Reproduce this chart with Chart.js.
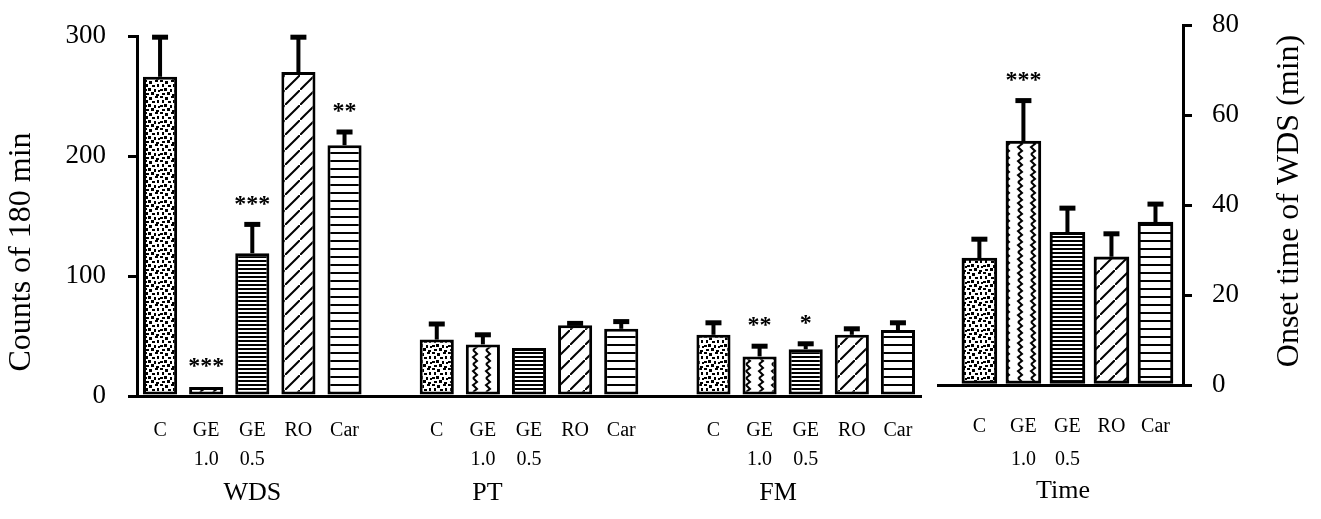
<!DOCTYPE html>
<html>
<head>
<meta charset="utf-8">
<script src="https://cdn.jsdelivr.net/npm/chart.js@4.4.0/dist/chart.umd.min.js"></script>
<style>
  html, body { margin: 0; padding: 0; background: #fff; }
  #wrap { position: relative; width: 1321px; height: 519px; }
  canvas { position: absolute; top: 0; }
</style>
</head>
<body>
<div id="wrap">
  <canvas id="countsChart" width="935" height="519" style="left:0"></canvas>
  <canvas id="timeChart" width="386" height="519" style="left:935px"></canvas>
</div>
<script>
// groupes de traitement
const treatments = ['C', ['GE', '1.0'], ['GE', '0.5'], 'RO', 'Car'];

// Counts of 180 min (mean, SE, significance)
const wdsMean = [266, 7.5, 119, 270, 209];
const wdsErr = [33, 0, 24, 29, 11];
const wdsStars = ['', '***', '***', '', '**'];

const ptMean = [47, 43, 40, 59, 56];
const ptErr = [13, 8, 0, 1.5, 6];
const ptStars = ['', '', '', '', ''];

const fmMean = [51, 33, 39, 51, 55];
const fmErr = [10, 8.5, 4.5, 5, 6];
const fmStars = ['', '**', '*', '', ''];

// Onset time of WDS (min)
const timeMean = [28.2, 54.2, 33.9, 28.5, 36.2];
const timeErr = [4.2, 9, 5.4, 5.1, 4];
const timeStars = ['', '***', '', '', ''];

const countTicks = [0, 100, 200, 300];
const timeTicks = [0, 20, 40, 60, 80];

const serif = '"Liberation Serif", "Times New Roman", serif';

// motifs des barres
function makePattern(w, h, draw) {
    const c = document.createElement('canvas');
    c.width = w;
    c.height = h;
    const g = c.getContext('2d');
    g.fillStyle = '#fff';
    g.fillRect(0, 0, w, h);
    g.fillStyle = '#000';
    g.strokeStyle = '#000';
    draw(g);
    return g.createPattern(c, 'repeat');
}

const stipple = makePattern(16, 16, g => {
    [[0, 0, 3, 2], [5, 1, 3, 3], [11, 0, 3, 2], [2, 4, 2, 3], [8, 5, 3, 2], [13, 4, 2, 3],
     [0, 9, 3, 2], [4, 8, 3, 3], [10, 9, 2, 3], [14, 10, 2, 2], [2, 13, 3, 2], [7, 12, 3, 3],
     [12, 14, 3, 2]].forEach(r => g.fillRect(...r));
});
const wavy = makePattern(13, 14, g => {
    g.lineWidth = 2;
    g.beginPath();
    g.moveTo(5, 0); g.lineTo(9, 4); g.lineTo(5, 7); g.lineTo(9, 11); g.lineTo(5, 14);
    g.stroke();
});
const dense = makePattern(4, 4, g => g.fillRect(0, 0, 4, 2));
const diag = makePattern(15, 15, g => {
    g.lineWidth = 2;
    g.beginPath();
    g.moveTo(-2, 17); g.lineTo(17, -2);
    g.stroke();
});
const lines = makePattern(8, 8, g => g.fillRect(0, 0, 8, 2));
const fills = [stipple, wavy, dense, diag, lines];

// barres d'erreur + étoiles
const errorBars = {
    id: 'errorBars',
    afterDatasetsDraw(chart) {
        const ctx = chart.ctx;
        const ds = chart.data.datasets[0];
        const yScale = chart.scales.y;
        ctx.save();
        ctx.fillStyle = '#000';
        chart.getDatasetMeta(0).data.forEach((bar, i) => {
            const d = ds.data[i];
            const v = (d !== null && typeof d === 'object') ? d.y : d;
            if (v === null || v === undefined) return;
            let top = bar.y;
            if (ds.errors[i] > 0) {
                top = yScale.getPixelForValue(v + ds.errors[i]);
                ctx.fillRect(bar.x - 2, top, 4, bar.y - top);
                ctx.fillRect(bar.x - 8, top - 2.5, 16, 5);
            }
            if (ds.stars[i]) {
                ctx.font = 'bold 24px ' + serif;
                ctx.textAlign = 'center';
                ctx.textBaseline = 'middle';
                ctx.fillText(ds.stars[i], bar.x, top - 20);
            }
        });
        ctx.restore();
    }
};

const yGrid = { drawOnChartArea: false, drawTicks: true, tickLength: 9, lineWidth: 3, color: '#000' };
const yBorder = { width: 3, color: '#000' };
// pas de marge automatique : la zone du graphique suit le layout.padding
const noPad = s => { s.paddingTop = 0; s.paddingBottom = 0; s.paddingLeft = 0; s.paddingRight = 0; };

// graphique de gauche : WDS, PT, FM
const countsTitles = {
    id: 'countsTitles',
    afterDraw(chart) {
        const ctx = chart.ctx;
        const x = chart.scales.x;
        ctx.save();
        ctx.fillStyle = '#000';
        ctx.textAlign = 'center';
        ctx.textBaseline = 'middle';
        ctx.font = '26px ' + serif;
        [['WDS', 2], ['PT', 7.1], ['FM', 13.4]].forEach(t => ctx.fillText(t[0], x.getPixelForValue(t[1]), 493));
        ctx.translate(22, 252);
        ctx.rotate(-Math.PI / 2);
        ctx.font = '32px ' + serif;
        ctx.fillText('Counts of 180 min', 0, 0);
        ctx.restore();
    }
};

new Chart('countsChart', {
    type: 'bar',
    data: {
        labels: [...treatments, '', ...treatments, '', ...treatments],
        datasets: [{
            data: [...wdsMean, null, ...ptMean, null, ...fmMean],
            errors: [...wdsErr, 0, ...ptErr, 0, ...fmErr],
            stars: [...wdsStars, '', ...ptStars, '', ...fmStars],
            backgroundColor: [...fills, '#fff', ...fills, '#fff', ...fills],
            borderColor: '#000',
            borderWidth: 3,
            borderSkipped: false,
            barPercentage: 0.74,
            categoryPercentage: 1
        }]
    },
    options: {
        responsive: false,
        animation: false,
        devicePixelRatio: 1,
        layout: { padding: { left: 0, top: 36, right: 14, bottom: 0 } },
        plugins: { legend: { display: false }, tooltip: { enabled: false } },
        scales: {
            x: {
                grid: { display: false, drawTicks: false },
                border: { width: 3, color: '#000' },
                ticks: { autoSkip: false, maxRotation: 0, padding: 20, color: '#000',
                    font: { family: serif, size: 20, lineHeight: 1.45 } },
                afterFit: s => { noPad(s); s.height = 123; }
            },
            y: {
                min: countTicks[0],
                max: countTicks[countTicks.length - 1],
                grid: yGrid,
                border: yBorder,
                ticks: { stepSize: countTicks[1] - countTicks[0], padding: 22, color: '#000',
                    font: { family: serif, size: 27 } },
                afterFit: s => { noPad(s); s.width = 137; }
            }
        }
    },
    plugins: [errorBars, countsTitles]
});

// graphique de droite : Time
const timeTitles = {
    id: 'timeTitles',
    afterDraw(chart) {
        const ctx = chart.ctx;
        const x = chart.scales.x;
        ctx.save();
        ctx.fillStyle = '#000';
        ctx.textAlign = 'center';
        ctx.textBaseline = 'middle';
        ctx.font = '26px ' + serif;
        ctx.fillText('Time', x.getPixelForValue(1.9), 491);
        ctx.translate(355, 201);
        ctx.rotate(-Math.PI / 2);
        ctx.font = '32px ' + serif;
        ctx.fillText('Onset time of WDS (min)', 0, 0);
        ctx.restore();
    }
};

new Chart('timeChart', {
    type: 'bar',
    data: {
        datasets: [{
            data: timeMean.map((v, i) => ({ x: i, y: v })),
            errors: timeErr,
            stars: timeStars,
            backgroundColor: fills,
            borderColor: '#000',
            borderWidth: 3,
            borderSkipped: false,
            barThickness: 35
        }]
    },
    options: {
        responsive: false,
        animation: false,
        devicePixelRatio: 1,
        layout: { padding: { left: 3, top: 25, right: 0, bottom: 0 } },
        plugins: { legend: { display: false }, tooltip: { enabled: false } },
        scales: {
            x: {
                type: 'linear',
                offset: false,
                min: -0.94,
                max: 4.625,
                grid: { display: false, drawTicks: false, offset: false },
                border: { width: 3, color: '#000' },
                afterBuildTicks: s => { s.ticks = timeMean.map((_, i) => ({ value: i })); },
                ticks: { autoSkip: false, maxRotation: 0, padding: 25, color: '#000',
                    font: { family: serif, size: 20, lineHeight: 1.65 },
                    callback: v => treatments[v] },
                afterFit: s => { noPad(s); s.height = 134; }
            },
            y: {
                position: 'right',
                min: timeTicks[0],
                max: timeTicks[timeTicks.length - 1],
                grid: yGrid,
                border: yBorder,
                ticks: { stepSize: timeTicks[1] - timeTicks[0], padding: 20, color: '#000',
                    font: { family: serif, size: 27 } },
                afterFit: s => { noPad(s); s.width = 138; }
            }
        }
    },
    plugins: [errorBars, timeTitles]
});
</script>
</body>
</html>
